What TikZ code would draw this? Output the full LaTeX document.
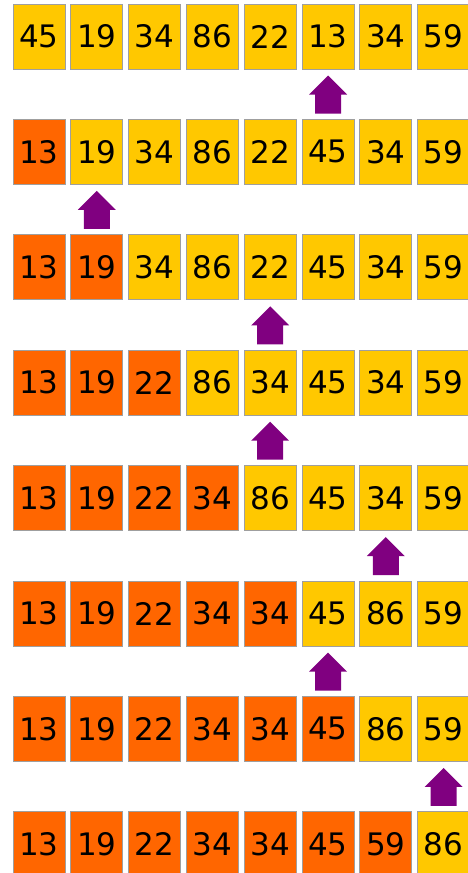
\documentclass[tikz,border=0pt]{standalone}
\usepackage{fontspec}
\setmainfont{DejaVu Sans}
\definecolor{unsorted}{RGB}{255,200,0}
\definecolor{sorted}{RGB}{255,102,0}
\definecolor{swap}{RGB}{128,0,128}
\tikzset{
  cell/.style={draw=gray!75,line width=1pt,minimum width=52pt,minimum height=65pt,
    inner sep=0pt,font=\fontsize{31}{31}\selectfont},
  pending/.style={cell,fill=unsorted},
  done/.style={cell,fill=sorted},
  swaparrow/.style={fill=swap}
}
\begin{document}
\begin{tikzpicture}[x=1pt,y=-1pt]
\useasboundingbox (0,0) rectangle (467,873);
% one row per pass: values, number of sorted cells
\foreach \vals [count=\r from 0] in {
  {45,19,34,86,22,13,34,59},
  {13,19,34,86,22,45,34,59},
  {13,19,34,86,22,45,34,59},
  {13,19,22,86,34,45,34,59},
  {13,19,22,34,86,45,34,59},
  {13,19,22,34,34,45,86,59},
  {13,19,22,34,34,45,86,59},
  {13,19,22,34,34,45,59,86}} {
  \foreach \v [count=\c from 0] in \vals {
    \ifnum\c<\r
      \node[done] (cell-\r-\c) at (39+57.8*\c,36.5+115.4*\r) {\v};
    \else
      \node[pending] (cell-\r-\c) at (39+57.8*\c,36.5+115.4*\r) {\v};
    \fi
  }
}
% arrows between rows: row above, column
\foreach \r/\c in {0/5,1/1,2/4,3/4,4/6,5/5,6/7} {
  \path (cell-\r-\c.south) ++(0,6) coordinate (tip-\r);
  \fill[swaparrow] (tip-\r) -- ++(19,19) -- ++(-6,0) -- ++(0,19) -- ++(-26,0)
    -- ++(0,-19) -- ++(-6,0) -- cycle;
}
\end{tikzpicture}
\end{document}
